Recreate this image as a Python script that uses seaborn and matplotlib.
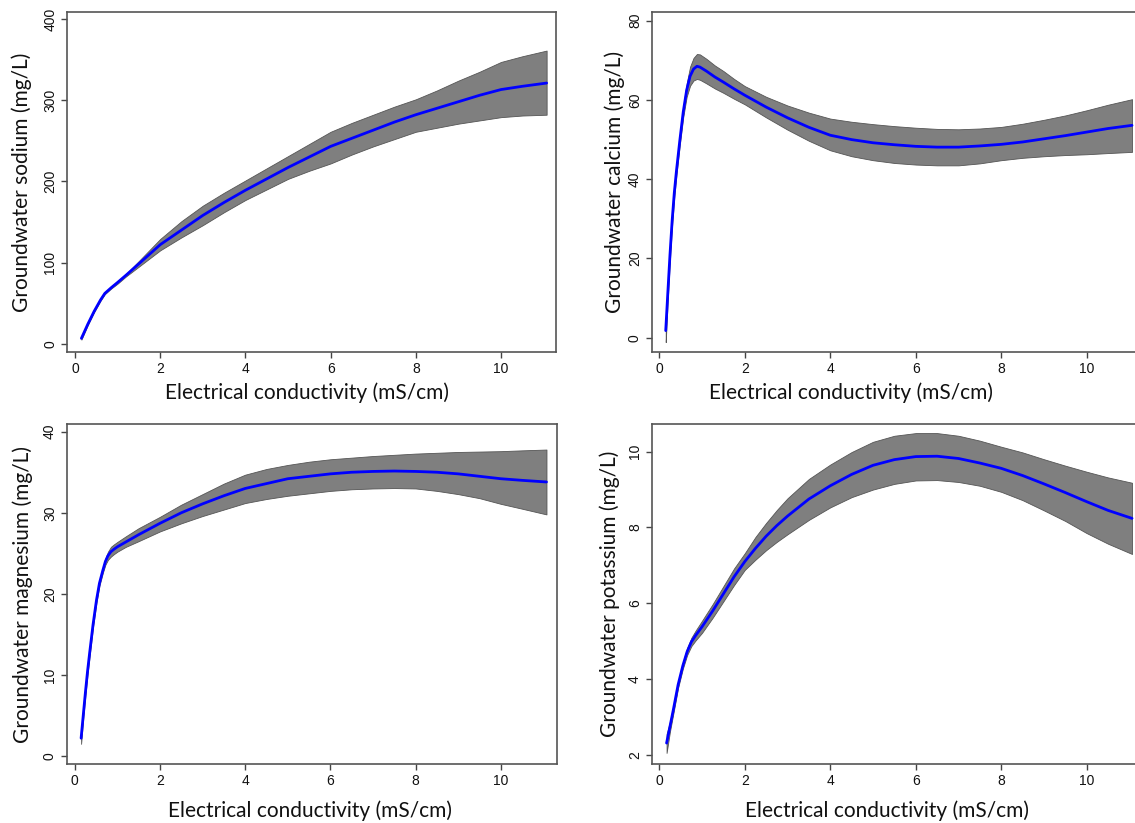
import numpy as np
import pandas as pd
import matplotlib
matplotlib.use("Agg")
import matplotlib.pyplot as plt
import seaborn as sns

# ---------------- data ----------------
ec_na = [0.15, 0.3, 0.45, 0.6, 0.7, 0.85, 1.0, 1.2, 1.5, 2.0, 2.5, 3.0, 3.5, 4.0, 4.5, 5.0,
         5.5, 6.0, 6.5, 7.0, 7.5, 8.0, 8.5, 9.0, 9.5, 10.0, 10.5, 11.07]
na_fit = [6.6, 24, 40, 54, 62, 69, 75.5, 84.5, 98.5, 122, 140, 158, 174, 189, 203, 217,
          230, 243, 253, 263, 273, 282, 290, 298, 306, 313, 317, 321]
na_lo = [5, 23, 39, 53, 61, 68, 74, 83, 95, 115, 131, 146, 162, 177, 190, 203,
         213, 222, 233, 243, 252, 261, 266, 271, 275, 279, 281, 282]
na_hi = [8, 25, 41, 55, 63, 70, 77, 86, 102, 129, 151, 170, 186, 201, 216, 231,
         246, 261, 272, 282, 292, 301, 312, 324, 335, 347, 354, 361]

ec_ca = [0.15, 0.2, 0.25, 0.3, 0.35, 0.4, 0.48, 0.56, 0.64, 0.72, 0.8, 0.88, 0.95, 1.1, 1.3,
         1.5, 1.75, 2.0, 2.5, 3.0, 3.5, 4.0, 4.5, 5.0, 5.5, 6.0, 6.5, 7.0, 7.5, 8.0, 8.5,
         9.0, 9.5, 10.0, 10.5, 11.06]
ca_fit = [1.8, 11.5, 21, 29.5, 36.5, 42, 49.8, 57, 62.5, 66, 67.8, 68.5, 68.3, 67.3, 65.8,
          64.5, 62.8, 61.2, 58.2, 55.5, 53.1, 51.1, 50.0, 49.2, 48.7, 48.3, 48.1, 48.1, 48.4, 48.8, 49.4,
          50.2, 51.0, 51.9, 52.8, 53.6]
ca_lo = [-1.1, 10, 19.8, 28.4, 35.4, 41, 48.7, 55.7, 60.8, 63.6, 64.9, 65.3, 65.1, 64.2, 62.9,
         61.8, 60.3, 58.9, 55.6, 52.5, 49.7, 47.3, 45.8, 44.8, 44.1, 43.7, 43.5, 43.5, 44.0, 44.8, 45.4,
         45.8, 46.1, 46.3, 46.6, 46.9]
ca_hi = [3.0, 13, 22.2, 30.6, 37.6, 43, 50.9, 58.3, 64.2, 68.4, 70.6, 71.6, 71.5, 70.4, 68.7,
         67.3, 65.3, 63.5, 60.8, 58.6, 56.8, 55.3, 54.5, 53.9, 53.4, 53.0, 52.7, 52.6, 52.8, 53.2, 54.0,
         55.0, 56.1, 57.4, 58.8, 60.2]

ec_mg = [0.15, 0.2, 0.25, 0.3, 0.35, 0.43, 0.51, 0.58, 0.66, 0.72, 0.78, 0.85, 0.92, 1.0, 1.2,
         1.5, 1.75, 2.0, 2.5, 3.0, 3.5, 4.0, 4.5, 5.0, 5.5, 6.0, 6.5, 7.0, 7.5, 8.0, 8.5,
         9.0, 9.5, 10.0, 10.5, 11.07]
mg_fit = [2.2, 5.0, 7.8, 10.4, 12.7, 16.2, 19.2, 21.3, 22.9, 24.0, 24.7, 25.2, 25.5, 25.8, 26.4,
          27.3, 28.0, 28.7, 30.0, 31.1, 32.1, 33.0, 33.6, 34.2, 34.5, 34.8, 35.0, 35.1, 35.15, 35.1, 35.0,
          34.8, 34.5, 34.2, 34.0, 33.8]
mg_lo = [1.5, 4.6, 7.4, 10.0, 12.3, 15.9, 18.9, 21.0, 22.6, 23.6, 24.2, 24.6, 24.9, 25.2, 25.8,
         26.5, 27.1, 27.7, 28.7, 29.6, 30.4, 31.2, 31.7, 32.1, 32.4, 32.7, 32.9, 33.0, 33.05, 33.0, 32.7,
         32.3, 31.8, 31.1, 30.5, 29.8]
mg_hi = [2.9, 5.4, 8.2, 10.8, 13.1, 16.5, 19.5, 21.6, 23.2, 24.4, 25.2, 25.8, 26.1, 26.4, 27.1,
         28.1, 28.8, 29.5, 31.0, 32.3, 33.6, 34.7, 35.4, 35.9, 36.3, 36.6, 36.8, 37.0, 37.15, 37.3, 37.4,
         37.5, 37.55, 37.6, 37.7, 37.8]

ec_k = [0.17, 0.25, 0.33, 0.44, 0.55, 0.65, 0.75, 0.85, 1.0, 1.25, 1.5, 1.75, 2.0, 2.25, 2.5,
        2.75, 3.0, 3.5, 4.0, 4.5, 5.0, 5.5, 6.0, 6.5, 7.0, 7.5, 8.0, 8.5, 9.0, 9.5, 10.0,
        10.5, 11.06]
k_fit = [2.31, 2.75, 3.2, 3.85, 4.35, 4.72, 4.98, 5.15, 5.38, 5.8, 6.25, 6.7, 7.1, 7.45, 7.77,
         8.05, 8.3, 8.75, 9.1, 9.4, 9.64, 9.79, 9.87, 9.88, 9.82, 9.7, 9.56, 9.37, 9.15, 8.92, 8.68,
         8.45, 8.24]
k_lo = [2.05, 2.62, 3.1, 3.77, 4.27, 4.63, 4.87, 5.02, 5.22, 5.62, 6.05, 6.48, 6.88, 7.15, 7.4,
        7.62, 7.82, 8.2, 8.53, 8.8, 9.0, 9.15, 9.24, 9.25, 9.2, 9.1, 8.94, 8.72, 8.45, 8.17, 7.85,
        7.57, 7.3]
k_hi = [2.55, 2.88, 3.3, 3.93, 4.43, 4.82, 5.09, 5.28, 5.54, 5.98, 6.45, 6.92, 7.32, 7.75, 8.12,
        8.46, 8.77, 9.28, 9.66, 9.99, 10.26, 10.42, 10.49, 10.49, 10.42, 10.29, 10.13, 9.98, 9.8, 9.63, 9.47,
        9.32, 9.18]

x_ticks = [0, 2, 4, 6, 8, 10]
na_ticks = [0, 100, 200, 300, 400]
ca_ticks = [0, 20, 40, 60, 80]
mg_ticks = [0, 10, 20, 30, 40]
k_ticks = [2, 4, 6, 8, 10]

x_label = "Electrical conductivity (mS/cm)"
y_labels = ["Groundwater sodium (mg/L)", "Groundwater calcium (mg/L)",
            "Groundwater magnesium (mg/L)", "Groundwater potassium (mg/L)"]

# ---------------- figure ----------------
sns.set_style("ticks")
plt.rcParams["font.family"] = ["Liberation Sans", "DejaVu Sans"]

W, H = 1135, 823
fig = plt.figure(figsize=(W / 100, H / 100), dpi=100)

def box(l, t, r, b):
    return [l / W, 1 - b / H, (r - l) / W, (b - t) / H]

panels = [
    dict(rect=box(67, 12, 556, 352), ec=ec_na, fit=na_fit, lo=na_lo, hi=na_hi,
         yt=na_ticks, ylim=(-10.2, 408.5), xlim=(-0.188, 11.29), ylab=y_labels[0],
         ylc=(-0.093, 0.5), xlc=(0.49, -0.12)),
    dict(rect=box(651.7, 12, 1141, 352), ec=ec_ca, fit=ca_fit, lo=ca_lo, hi=ca_hi,
         yt=ca_ticks, ylim=(-3.6, 82.2), xlim=(-0.178, 11.27), ylab=y_labels[1],
         ylc=(-0.075, 0.5), xlc=(0.408, -0.12)),
    dict(rect=box(66.7, 424, 556.7, 764.3), ec=ec_mg, fit=mg_fit, lo=mg_lo, hi=mg_hi,
         yt=mg_ticks, ylim=(-1.02, 40.95), xlim=(-0.188, 11.31), ylab=y_labels[2],
         ylc=(-0.089, 0.5), xlc=(0.497, -0.135)),
    dict(rect=box(651.7, 424, 1141, 764.3), ec=ec_k, fit=k_fit, lo=k_lo, hi=k_hi,
         yt=k_ticks, ylim=(1.75, 10.73), xlim=(-0.178, 11.27), ylab=y_labels[3],
         ylc=(-0.085, 0.5), xlc=(0.481, -0.135)),
]

label_font = ["Lato", "DejaVu Sans"]

for p in panels:
    ax = fig.add_axes(p["rect"])
    ax.fill_between(p["ec"], p["lo"], p["hi"], facecolor="#7f7f7f",
                    edgecolor="#555555", linewidth=0.6, zorder=1)
    df = pd.DataFrame({"ec": p["ec"], "y": p["fit"]})
    sns.lineplot(data=df, x="ec", y="y", ax=ax, color="#0000ff",
                 linewidth=2.0, zorder=2)
    ax.set_xlim(*p["xlim"])
    ax.set_ylim(*p["ylim"])
    ax.set_xticks(x_ticks)
    ax.set_yticks(p["yt"])
    ax.set_xticklabels([str(v) for v in x_ticks])
    ax.set_yticklabels([str(v) for v in p["yt"]], rotation=90, va="center")
    ax.tick_params(axis="both", direction="out", length=4, width=1.0,
                   color="#444444", labelsize=10, labelcolor="#111111", pad=3)
    for s in ax.spines.values():
        s.set_visible(True)
        s.set_color("#555555")
        s.set_linewidth(1.2)
    ax.set_xlabel(x_label, fontsize=15, family=label_font, color="#111111")
    ax.set_ylabel(p["ylab"], fontsize=15, family=label_font, color="#111111")
    ax.xaxis.set_label_coords(*p["xlc"])
    ax.yaxis.set_label_coords(*p["ylc"])
    ax.xaxis.label.set_va("center")
    ax.yaxis.label.set_va("center")

fig.savefig("out.png", dpi=100, facecolor="white")
